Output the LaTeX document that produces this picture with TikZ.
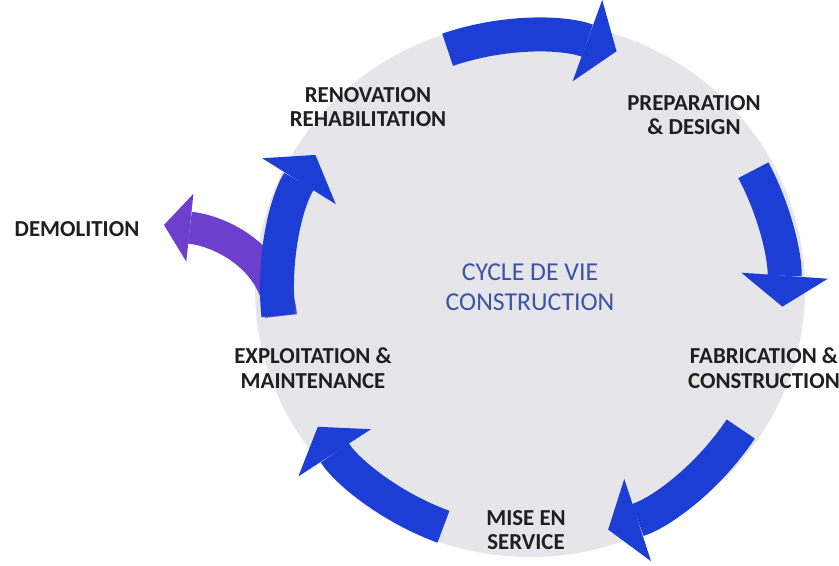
\documentclass[tikz,border=0pt]{standalone}
\usepackage{fontspec}
\setmainfont{Carlito}
\usetikzlibrary{arrows.meta}
\definecolor{cycleblue}{RGB}{28,62,212}
\definecolor{demopurple}{RGB}{110,62,204}
\definecolor{discgrey}{RGB}{230,229,233}
\definecolor{titleblue}{RGB}{58,84,168}

\begin{document}
\begin{tikzpicture}[x=0.3mm, y=0.3mm,
    stage/.style={font=\fontsize{19.5}{21}\selectfont\bfseries, align=center, text=black!88, inner sep=0pt},
    cycletitle/.style={font=\fontsize{22}{25.5}\selectfont, align=center, text=titleblue, inner sep=0pt},
    cyc/.style={line width=10.2mm, cycleblue, -{Triangle[length=9.3mm, width=26mm, line width=0pt]}},
    demo/.style={line width=9.6mm, demopurple, -{Triangle[length=7.8mm, width=20.5mm, line width=0pt]}}]
    \useasboundingbox (0,0) rectangle (839,566);
    \coordinate (c) at (530,277);
    \fill[discgrey] (c) ellipse [x radius=275, y radius=268];

    % way out of the cycle
    \coordinate (demostart) at (281,250);
    \coordinate (demoend) at (164,341);
    \draw[demo] (demostart) to[out=95, in=-6] (demoend);

    % the five steps of the cycle
    \draw[cyc] ([shift={(c)}]109:253) arc[start angle=109, end angle=70, radius=253];
    \draw[cyc] ([shift={(c)}]28:253) arc[start angle=28, end angle=-4, radius=253];
    \draw[cyc] ([shift={(c)}]-33.6:253) arc[start angle=-33.6, end angle=-72, radius=253];
    \draw[cyc] ([shift={(c)}]-110:253) arc[start angle=-110, end angle=-147, radius=253];
    \draw[cyc] ([shift={(c)}]186:253) arc[start angle=186, end angle=148, radius=253];

    \node[cycletitle] (cycle) at (530,279) {CYCLE DE VIE\\CONSTRUCTION};
    \node[stage] (renov) at (368,459) {RENOVATION\\REHABILITATION};
    \node[stage] (prep) at (694,451) {PREPARATION\\\& DESIGN};
    \node[stage] (fabric) at (764,198) {FABRICATION \&\\CONSTRUCTION};
    \node[stage] (mise) at (526,36) {MISE EN\\SERVICE};
    \node[stage] (exploit) at (313,198) {EXPLOITATION \&\\MAINTENANCE};
    \node[stage] (demol) at (77,337) {DEMOLITION};
\end{tikzpicture}
\end{document}
